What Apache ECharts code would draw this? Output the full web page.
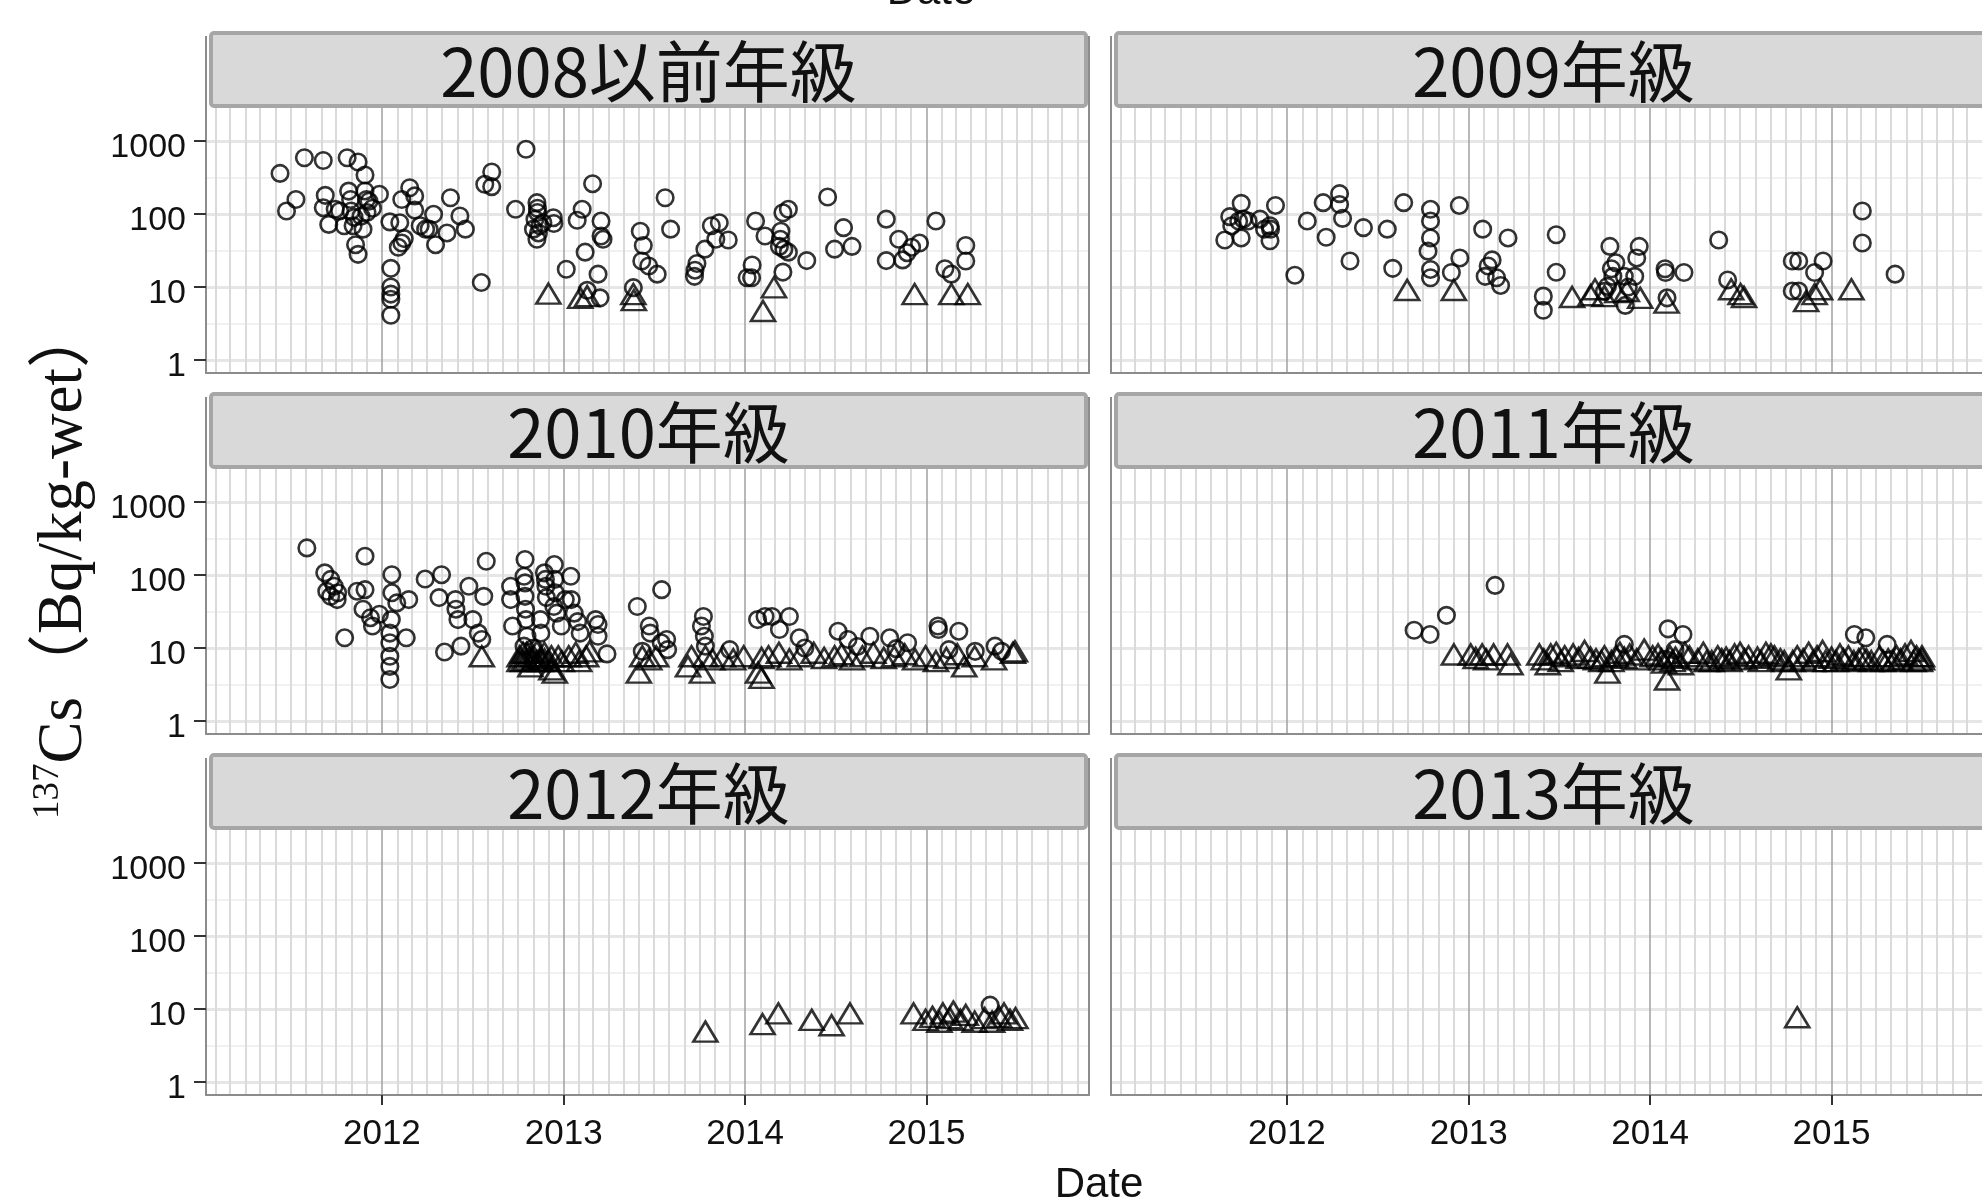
<!DOCTYPE html>
<html><head><meta charset="utf-8">
<script src="https://cdn.jsdelivr.net/npm/echarts@6/dist/echarts.min.js"></script>
<style>html,body{margin:0;padding:0;background:#fff}#c{width:1982px;height:1199px}</style>
</head><body><div id="c"></div>
<script>
// ---------------- data ----------------
const panelTitles = ['2008以前年級','2009年級','2010年級','2011年級','2012年級','2013年級'];
const yearTicks = ['2012-01-01','2013-01-01','2014-01-01','2015-01-01'];
const yTicks = [1, 10, 100, 1000];
const yMinorLines = [3.162, 31.62, 316.2];
const xMin = '2011-01-12', xMax = '2015-11-24';
const yMin = 0.664, yMax = 2830;

const circles2008 = [
['2011-06-10',360],['2011-06-23',110],['2011-07-12',158],['2011-07-29',590],['2011-09-05',540],['2011-09-09',180],['2011-09-05',122],['2011-09-16',72],['2011-09-29',116],['2011-10-08',110],['2011-10-23',590],['2011-10-26',206],['2011-10-30',158],['2011-10-31',110],['2011-11-06',90],['2011-10-17',69],['2011-11-04',69],['2011-11-14',515],['2011-11-09',38],['2011-11-14',28],['2011-11-24',62],['2011-11-28',342],['2011-11-28',207],['2011-12-01',158],['2011-12-02',105],['2011-11-20',93],['2011-12-06',150],['2011-12-27',186],['2011-12-13',120],
['2012-01-17',78],['2012-01-19',18],['2012-01-19',10],['2012-01-19',8],['2012-01-19',6.8],['2012-01-19',4.1],['2012-02-03',35],['2012-02-10',40],['2012-02-15',46],['2012-02-10',158],['2012-02-06',76],['2012-02-26',229],['2012-03-07',177],['2012-03-07',113],['2012-03-18',69],['2012-03-29',62],['2012-04-05',62],['2012-04-14',99],['2012-04-18',38],['2012-05-11',55],['2012-05-18',167],['2012-06-06',94],['2012-06-17',62],['2012-07-19',11.5],['2012-07-26',255],['2012-08-09',376],['2012-08-09',237],['2012-09-26',116],['2012-10-17',770],['2012-11-01',62],['2012-11-04',85],['2012-11-08',143],['2012-11-09',120],['2012-11-09',105],['2012-11-08',45],['2012-11-11',55],['2012-11-14',69],['2012-11-20',76],['2012-12-11',89],['2012-12-12',74],
['2013-01-06',17.5],['2013-01-28',82],['2013-02-07',116],['2013-02-13',30],['2013-02-28',260],['2013-03-11',15],['2013-03-17',80],['2013-03-17',50],['2013-03-21',45],['2013-03-15',7.1],['2013-02-17',9],['2013-05-21',9.8],['2013-06-04',58],['2013-06-10',37],['2013-06-07',22.7],['2013-06-21',19.4],['2013-07-08',15],['2013-07-24',167],['2013-08-04',62],['2013-09-21',14],['2013-09-22',17],['2013-09-26',21],['2013-10-12',33],['2013-10-25',69],['2013-11-03',45],['2013-11-10',76],['2013-11-28',44],
['2014-01-05',13.4],['2014-01-14',13.4],['2014-01-15',20],['2014-01-22',80],['2014-02-10',50],['2014-03-11',36],['2014-03-14',58],['2014-03-18',104],['2014-03-13',45],['2014-03-20',33],['2014-03-18',16],['2014-03-29',116],['2014-03-29',30],['2014-05-05',23],['2014-06-16',171],['2014-06-30',33],['2014-07-18',65],['2014-08-04',36],['2014-10-12',85],['2014-10-12',23],['2014-11-06',45],['2014-11-14',23.5],['2014-11-23',29.5],['2014-12-02',35],['2014-12-18',40],
['2015-01-20',80],['2015-02-07',17.8],['2015-02-20',15],['2015-03-21',37],['2015-03-21',22.7]
];
const triangles2008 = [
['2012-12-01',8.1],['2013-02-03',7.1],['2013-02-17',7.5],['2013-05-21',8],['2013-05-22',6.6],['2014-02-06',4.7],['2014-02-28',9.9],['2014-12-08',8],['2015-02-20',8],['2015-03-25',8]
];

const circles2009 = [
['2011-08-29',44],['2011-09-08',92],['2011-09-12',69],['2011-09-26',80],['2011-10-01',140],['2011-10-01',47],['2011-10-05',85],['2011-10-15',80],['2011-11-08',85],['2011-11-17',62],['2011-11-28',69],['2011-11-28',43],['2011-11-29',62],['2011-12-09',131],
['2012-01-17',14.5],['2012-02-11',80],['2012-03-14',143],['2012-03-20',48],['2012-04-16',190],['2012-04-16',135],['2012-04-22',87],['2012-05-07',22.7],['2012-06-03',65],['2012-07-21',62],['2012-08-01',18],['2012-08-23',143],['2012-10-16',116],['2012-10-16',80],['2012-10-16',47],['2012-10-11',31],['2012-10-16',17.4],['2012-10-16',13.4],['2012-11-27',15.8],['2012-12-13',131],['2012-12-14',25],
['2013-01-29',62],['2013-02-09',19.4],['2013-02-17',23.5],['2013-02-03',14],['2013-02-26',13.4],['2013-03-06',10.5],['2013-03-21',47],['2013-05-31',7.5],['2013-05-31',4.8],['2013-06-26',52],['2013-06-26',15.9],['2013-10-12',36],['2013-10-15',17.8],['2013-10-18',14],['2013-10-24',21.5],['2013-10-07',10.2],['2013-10-01',8.7],['2013-11-10',14],['2013-11-12',5.6],['2013-11-18',10],['2013-12-01',14],['2013-12-05',25],['2013-12-10',36],
['2014-01-31',17.8],['2014-02-01',15.8],['2014-02-04',7.1],['2014-03-10',15.8],['2014-05-19',44],['2014-06-06',12.5],['2014-10-14',22.7],['2014-10-27',22.7],['2014-10-14',8.8],['2014-10-27',8.8],['2014-11-28',15.8],['2014-12-15',22.7],
['2015-03-04',110],['2015-03-04',40],['2015-05-09',15]
];
const triangles2009 = [
['2012-08-30',9.1],['2012-12-02',9.1],['2013-07-28',7.3],['2013-09-03',7.7],['2013-09-12',9.3],['2013-10-01',7.5],['2013-10-27',8.5],['2013-11-15',8.8],['2013-12-12',7.1],['2014-02-03',6.1],['2014-06-13',9.3],['2014-07-02',8],['2014-07-09',7.3],['2014-11-11',6.4],['2014-11-28',8],['2014-12-09',9.3],['2015-02-10',9.3]
];

const circles2010 = [
['2011-08-03',235],['2011-09-08',107],['2011-09-20',87],['2011-09-27',70],['2011-09-12',60],['2011-09-20',51],['2011-10-03',46],['2011-10-04',57],['2011-10-18',13.8],['2011-11-12',60],['2011-11-24',34],['2011-11-28',181],['2011-11-28',63],['2011-12-09',26],['2011-12-13',20],['2011-12-27',29],
['2012-01-17',11.8],['2012-01-17',7.7],['2012-01-17',5.6],['2012-01-17',3.7],['2012-01-17',16],['2012-01-21',101],['2012-01-21',57],['2012-01-20',24.5],['2012-01-31',41.5],['2012-02-19',13.8],['2012-02-24',46],['2012-03-28',88],['2012-04-30',101],['2012-04-25',49],['2012-05-06',8.8],['2012-05-28',46],['2012-05-29',34],['2012-06-02',24.5],['2012-06-08',10.6],['2012-06-24',70],['2012-07-02',24.5],['2012-07-13',16],['2012-07-20',13.1],['2012-07-24',51],['2012-07-29',154],['2012-09-16',70],['2012-09-16',46],['2012-09-20',20],['2012-10-15',163],['2012-10-13',96],['2012-10-15',78],['2012-10-15',51],['2012-10-16',34],['2012-10-17',24.5],['2012-10-19',14.5],['2012-10-13',10.6],['2012-11-01',10],['2012-11-15',24.5],['2012-11-16',16],['2012-11-23',107],['2012-11-25',87],['2012-11-26',70],['2012-11-27',49],['2012-12-13',139],['2012-12-14',87],['2012-12-15',57],['2012-12-12',37],['2012-12-18',30],['2012-12-27',20],
['2013-01-04',46],['2013-01-15',96],['2013-01-16',46],['2013-01-22',30],['2013-01-29',23],['2013-02-03',16],['2013-03-06',24.5],['2013-03-11',21],['2013-03-11',14.5],['2013-03-29',8.3],['2013-05-29',37],['2013-06-08',9],['2013-06-22',20],['2013-06-24',16],['2013-07-17',63],['2013-07-16',11.8],['2013-07-27',13.1],['2013-07-29',9.5],['2013-10-05',20],['2013-10-09',27],['2013-10-11',14.5],['2013-10-13',10.6],['2013-12-01',9.5],
['2014-01-26',24.5],['2014-02-10',27],['2014-02-24',27],['2014-03-11',17.9],['2014-03-31',27],['2014-04-20',13.8],['2014-05-01',10],['2014-07-07',17],['2014-07-27',13.1],['2014-08-15',10.5],['2014-09-09',14.5],['2014-10-19',13.8],['2014-11-01',9.8],['2014-11-24',11.8],
['2015-01-24',20],['2015-01-25',17.9],['2015-02-15',9.5],['2015-03-07',17],['2015-04-09',9],['2015-05-19',10.6],['2015-06-01',9]
];
const triangles2010 = [
['2012-07-20',7.7],['2012-10-04',7.7],['2012-10-04',6.6],['2012-10-11',6.6],['2012-10-11',8.6],['2012-10-18',8.6],['2012-10-18',7.0],['2012-10-26',5.6],['2012-10-26',7.7],['2012-11-01',7.7],['2012-11-01',6.6],['2012-11-08',6.6],['2012-11-08',9.0],['2012-11-15',7.3],['2012-11-15',6.6],['2012-11-23',8.6],['2012-11-23',7.0],['2012-11-30',6.6],['2012-12-07',5.1],['2012-12-07',7.7],['2012-12-14',4.6],['2012-12-21',7.7],['2012-12-28',6.6],
['2013-01-11',7.7],['2013-01-25',8.6],['2013-02-01',6.6],['2013-02-15',7.7],['2013-02-22',9.0],['2013-06-01',4.6],['2013-06-08',7.7],['2013-06-22',7.0],['2013-07-06',7.7],['2013-09-08',5.6],['2013-09-15',7.7],['2013-10-06',4.6],['2013-10-13',7.7],['2013-10-27',7.0],['2013-11-17',7.7],['2013-12-08',7.0],['2013-12-29',7.7],
['2014-01-27',4.6],['2014-02-03',3.9],['2014-02-03',7.3],['2014-02-17',7.7],['2014-03-10',8.6],['2014-03-31',7.0],['2014-04-21',7.7],['2014-05-19',8.6],['2014-06-09',7.3],['2014-06-30',7.7],['2014-07-14',8.2],['2014-08-04',7.0],['2014-08-25',7.7],['2014-09-16',8.6],['2014-10-07',7.3],['2014-10-28',7.7],['2014-11-18',8.2],['2014-12-09',7.0],['2014-12-30',7.7],
['2015-01-20',6.6],['2015-02-10',7.3],['2015-03-04',8.2],['2015-03-18',5.6],['2015-04-08',7.7],['2015-05-17',7.0],['2015-06-24',8.6],['2015-06-28',9.0]
];

const circles2011 = [
['2012-09-13',17.5],['2012-10-15',15.3],['2012-11-17',28],['2013-02-23',72],['2013-11-10',11.2],['2014-02-06',18.3],['2014-03-08',15.3],['2014-02-01',7],['2014-02-20',9.5],['2015-02-16',15.3],['2015-03-11',13.8],['2015-04-23',11.2]
];
const triangles2011 = [
['2012-12-02',8.15],['2013-01-05',8.15],['2013-01-28',8.15],['2013-02-20',8.15],['2013-03-20',8.15],['2013-03-26',6.0],['2013-05-23',8.15],['2013-06-09',6.0],['2013-06-15',8.15],['2013-06-26',8.6],['2013-07-13',7.7],['2013-07-30',8.15],['2013-08-22',9.1],['2013-09-03',7.35],['2013-09-14',7.0],['2013-10-01',7.7],['2013-10-07',4.6],['2013-10-24',7.7],['2013-11-10',7.35],['2013-11-21',8.15],['2013-12-20',9.5],
['2014-01-06',7.7],['2014-01-17',8.15],['2014-01-29',6.3],['2014-02-04',3.7],['2014-02-10',7.7],['2014-02-21',7.35],['2014-03-04',6.0],['2014-03-21',7.7],['2014-04-07',7.0],['2014-04-18',8.6],['2014-05-05',6.6],['2014-05-17',7.7],['2014-06-03',7.35],['2014-06-20',8.15],['2014-07-01',8.6],['2014-07-18',7.7],['2014-08-05',7.35],['2014-08-22',8.6],['2014-09-08',7.7],['2014-09-20',7.0],['2014-10-07',5.1],['2014-10-24',7.7],['2014-11-16',8.6],['2014-12-03',7.7],['2014-12-14',9.1],
['2015-01-01',7.35],['2015-01-18',8.15],['2015-02-04',7.7],['2015-02-15',6.6],['2015-03-04',7.7],['2015-03-22',6.6],['2015-04-08',7.7],['2015-04-25',7.0],['2015-05-12',7.7],['2015-05-29',8.15],['2015-06-10',9.1],['2015-06-21',7.7],['2015-07-02',7.0],
['2013-01-15',7.3],['2013-02-05',7.0],['2013-06-01',7.0],['2013-07-05',6.6],['2013-08-10',7.3],['2013-09-25',6.6],['2013-10-15',6.6],['2013-11-01',8.6],['2013-12-05',7.0],['2014-01-24',7.0],['2014-02-15',6.6],['2014-03-12',8.6],['2014-04-25',6.6],['2014-05-25',7.0],['2014-06-10',6.6],['2014-07-10',7.0],['2014-08-12',6.6],['2014-09-01',8.15],['2014-09-28',6.6],['2014-10-15',6.6],['2014-11-05',7.0],['2014-11-25',6.6],['2014-12-20',6.6],['2015-01-10',6.6],['2015-01-25',7.0],['2015-02-25',7.0],['2015-03-12',7.0],['2015-04-15',6.6],['2015-05-05',6.6],['2015-05-20',7.0],['2015-06-15',6.6],['2015-06-28',6.6],['2015-07-02',7.7]
];

const circles2012 = [['2015-05-09',11.3]];
const triangles2012 = [
['2013-10-13',4.9],['2014-02-05',6.2],['2014-03-09',8.7],['2014-05-15',7.1],['2014-06-24',6.0],['2014-07-31',8.7],['2014-12-06',8.7],['2014-12-30',7.1],['2015-01-13',7.8],['2015-01-27',6.7],['2015-02-03',8.7],['2015-02-17',7.5],['2015-02-24',9.2],['2015-03-10',7.1],['2015-03-21',8.3],['2015-04-08',6.7],['2015-04-28',7.5],['2015-05-13',6.7],['2015-05-27',7.8],['2015-06-06',8.7],['2015-06-18',7.1],['2015-06-29',7.5]
];

const circles2013 = [];
const triangles2013 = [['2014-10-24',7.7]];

const panelCircles = [circles2008, circles2009, circles2010, circles2011, circles2012, circles2013];
const panelTriangles = [triangles2008, triangles2009, triangles2010, triangles2011, triangles2012, triangles2013];

// ---------------- layout ----------------
const colLeft = [206, 1111];
const rowTop = [108, 469, 830];
const plotW = 883, plotH = 265;
const stripH = 77;

const T = s => Date.parse(s);               // date string -> ms (UTC)
const toPts = arr => arr.map(d => [T(d[0]), d[1]]);

// monthly grid line positions (axis decoration)
const monthLines = [];
for (let y = 2011; y <= 2015; y++) {
  for (let m = 1; m <= 12; m++) {
    const s = y + '-' + (m < 10 ? '0' + m : m) + '-01';
    if (m !== 1 && s > xMin && s < xMax) monthLines.push(T(s));
  }
}
const yearVals = yearTicks.map(T);

const option = {
  animation: false,
  backgroundColor: '#ffffff',
  grid: [], xAxis: [], yAxis: [], series: [], graphic: []
};

panelTitles.forEach((title, k) => {
  const r = Math.floor(k / 2), c = k % 2;
  const left = colLeft[c], top = rowTop[r];
  option.grid.push({ left: left, top: top, width: plotW, height: plotH, show: false,
    containLabel: false, outerBoundsMode: 'none' });
  option.xAxis.push({
    type: 'value', gridIndex: k, min: T(xMin), max: T(xMax), position: 'top',
    axisLine: { show: false }, axisTick: { show: false, customValues: monthLines },
    axisLabel: { show: false, customValues: monthLines },
    splitLine: { show: true, lineStyle: { color: '#DADADA', width: 2 } }
  });
  option.xAxis.push({
    type: 'value', gridIndex: k, min: T(xMin), max: T(xMax), position: 'bottom',
    axisLine: { show: true, onZero: false, lineStyle: { color: '#8C8C8C', width: 2 } },
    axisTick: { show: r === 2, customValues: yearVals, length: 10, lineStyle: { color: '#333', width: 2 } },
    axisLabel: { show: r === 2, customValues: yearVals, formatter: v => String(new Date(v).getUTCFullYear()),
      fontSize: 35, fontFamily: 'Liberation Sans, Arial, sans-serif', color: '#111', margin: 22 },
    splitLine: { show: true, lineStyle: { color: '#A0A0A0', width: 1.5 } }
  });
  option.yAxis.push({
    type: 'log', logBase: 10, gridIndex: k, min: yMin, max: yMax, position: 'left',
    axisLine: { show: true, onZero: false, lineStyle: { color: '#8C8C8C', width: 2 } },
    axisTick: { show: c === 0, customValues: yTicks, length: 12, lineStyle: { color: '#333', width: 2 } },
    axisLabel: { show: c === 0, customValues: yTicks, formatter: v => String(Math.round(v)),
      fontSize: 34, fontFamily: 'Liberation Sans, Arial, sans-serif', color: '#111', margin: 20,
      verticalAlign: 'top', lineHeight: 14 },
    splitLine: { show: true, lineStyle: { color: '#E6E6E6', width: 3 } }
  });
  option.yAxis.push({
    type: 'log', logBase: 10, gridIndex: k, min: yMin, max: yMax, position: 'right',
    axisLine: { show: true, onZero: false, lineStyle: { color: '#8C8C8C', width: 2 } },
    axisTick: { show: false, customValues: yMinorLines }, axisLabel: { show: false, customValues: yMinorLines },
    splitLine: { show: true, lineStyle: { color: '#EDEDED', width: 1.5 } }
  });
  option.series.push({
    type: 'scatter', xAxisIndex: 2 * k + 1, yAxisIndex: 2 * k, data: toPts(panelCircles[k]),
    symbol: 'circle', symbolSize: 16.5, silent: true,
    itemStyle: { color: 'rgba(0,0,0,0)', borderColor: '#000', borderWidth: 2.6 }
  });
  option.series.push({
    type: 'scatter', xAxisIndex: 2 * k + 1, yAxisIndex: 2 * k, data: toPts(panelTriangles[k]),
    symbol: 'triangle', symbolSize: [24, 20], silent: true,
    itemStyle: { color: 'rgba(0,0,0,0)', borderColor: '#000', borderWidth: 2.6 }
  });
  const sTop = top - stripH;
  option.graphic.push({
    type: 'rect', shape: { x: left + 5, y: sTop + 2, width: plotW - 8, height: stripH - 4, r: 3 },
    style: { fill: '#D9D9D9', stroke: '#A6A6A6', lineWidth: 4 }, silent: true
  });
  option.graphic.push({
    type: 'line', shape: { x1: left, y1: sTop + 5, x2: left, y2: top }, style: { stroke: '#8C8C8C', lineWidth: 2 }, silent: true
  });
  option.graphic.push({
    type: 'line', shape: { x1: left + plotW, y1: sTop + 5, x2: left + plotW, y2: top }, style: { stroke: '#8C8C8C', lineWidth: 2 }, silent: true
  });
  option.graphic.push({
    type: 'text', x: left + plotW / 2 + 1, y: sTop + stripH / 2 + 2,
    style: { text: title, fontSize: 67, fontFamily: '"Noto Sans CJK JP", sans-serif', fill: '#111', align: 'center', verticalAlign: 'middle' },
    silent: true
  });
});

option.graphic.push({
  type: 'text', x: 1099, y: 1185,
  style: { text: 'Date', fontSize: 42, fontFamily: 'Liberation Sans, Arial, sans-serif', fill: '#111', align: 'center', verticalAlign: 'middle' }, silent: true
});
option.graphic.push({
  type: 'text', x: 931, y: -8,
  style: { text: 'Date', fontSize: 42, fontFamily: 'Liberation Sans, Arial, sans-serif', fill: '#111', align: 'center', verticalAlign: 'middle' }, silent: true
});
option.graphic.push({
  type: 'text', x: 63, y: 562, rotation: Math.PI / 2,
  style: {
    text: '{s|137}{m|Cs（Bq/kg-wet）}',
    align: 'center', verticalAlign: 'middle', fill: '#111',
    rich: {
      s: { fontSize: 37, fontFamily: '"Liberation Serif", serif', verticalAlign: 'top', lineHeight: 66, fill: '#111' },
      m: { fontSize: 63, fontFamily: '"Liberation Serif", "Noto Sans CJK JP", serif', verticalAlign: 'bottom', lineHeight: 66, fill: '#111' }
    }
  }, silent: true
});

const chart = echarts.init(document.getElementById('c'), null, { renderer: 'canvas' });
chart.setOption(option);
</script>
</body></html>
